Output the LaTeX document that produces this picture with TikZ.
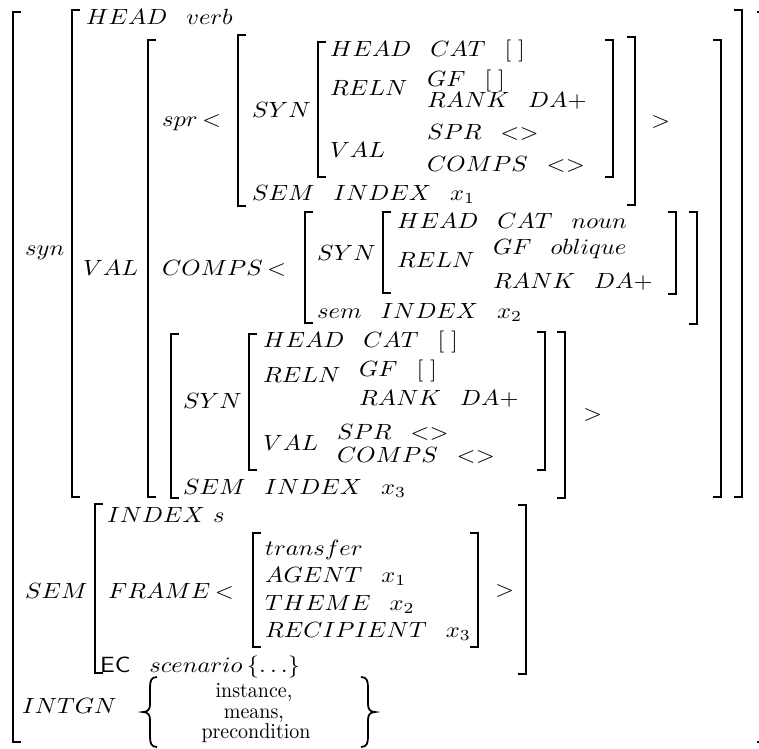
\documentclass[tikz,border=0pt]{standalone}
\usepackage{graphicx}
\newcommand\mt[1]{\scalebox{2.45}[2.2]{$#1$}}
\newcommand\rt[1]{\scalebox{2.0}[2.15]{#1}}
\tikzset{lbl/.style={anchor=base west, inner sep=0pt},
  nxt/.style={lbl, xshift=18.5pt},
  rel/.style={lbl, xshift=4pt},
  rom/.style={anchor=base, inner sep=0pt},
  br/.style={line width=2pt},
  brace/.style={line width=1.8pt}}
% word at a position / word after the previous one
\newcommand\avat[4]{\node[lbl] (#1) at (#2,#3) {\mt{#4}};}
\newcommand\avnx[3]{\node[nxt] (#1) at (#2.base east) {\mt{#3}};}
\newcommand\avrl[3]{\node[rel] (#1) at (#2.base east) {\mt{#3}};}
% brackets: x, top, bottom
\newcommand\avlb[3]{\draw[br] ({#1+8},#2) -- (#1,#2) -- (#1,#3) -- ({#1+8},#3);}
\newcommand\avrb[3]{\draw[br] ({#1-8},#2) -- (#1,#2) -- (#1,#3) -- ({#1-8},#3);}
\newcommand\emptyv{[\;]}
\begin{document}
\begin{tikzpicture}[x=1pt,y=-1pt]
\useasboundingbox (0,0) rectangle (759,748);
% ---- brackets ----
\avlb{12.5}{12}{742}  \avrb{765}{12}{742}
\avlb{72}{10}{497}    \avrb{742}{10}{497}
\avlb{148}{40}{497}   \avrb{721}{40}{497}
\avlb{238}{35}{206}   \avrb{635}{37}{205}
\avlb{318}{42}{177}   \avrb{613}{40}{177}
\avlb{305}{212}{323}  \avrb{697}{212}{324}
\avlb{383}{212}{293}  \avrb{676}{212}{294}
\avlb{171}{334}{498}  \avrb{565}{332}{498}
\avlb{249}{334}{470}  \avrb{545}{332}{470}
\avlb{95}{504}{673}   \avrb{526}{505}{674}
\avlb{253}{533}{647}  \avrb{478}{533}{647}
% ---- braces ----
\draw[brace] (157,677) .. controls (151,677) and (150,681) .. (150,688) -- (150,704)
  .. controls (150,709) and (148,712) .. (143,712) .. controls (148,712) and (150,715) .. (150,720)
  -- (150,736) .. controls (150,743) and (151,747) .. (157,747);
\draw[brace] (361,677) .. controls (367,677) and (368,681) .. (368,688) -- (368,704)
  .. controls (368,709) and (370,712) .. (375,712) .. controls (370,712) and (368,715) .. (368,720)
  -- (368,736) .. controls (368,743) and (367,747) .. (361,747);
% ---- syn part ----
\avat{syn}{25}{255}{syn}
\avat{h1}{86}{24}{HEAD} \avnx{h1v}{h1}{verb}
\avat{val}{83}{275}{VAL}
\avat{spr}{162}{126}{spr} \avrl{sprlt}{spr}{<}
% spr element
\avat{ao}{252}{117}{SYN}
\avat{aa}{330}{56}{HEAD} \avnx{ab}{aa}{CAT} \avnx{ac}{ab}{\emptyv}
\avat{ad}{330}{95}{RELN}
\avat{ae}{427}{86}{GF} \avnx{af}{ae}{\emptyv}
\avat{ag}{427}{107}{RANK} \avnx{ah}{ag}{DA+}
\avat{ai}{330}{157}{VAL}
\avat{aj}{427}{139}{SPR} \avnx{ak}{aj}{<>}
\avat{al}{427}{171}{COMPS} \avnx{am}{al}{<>}
\avat{an}{252}{200}{SEM} \avnx{ap}{an}{INDEX} \avnx{aq}{ap}{x_1}
\avat{agt}{651}{127}{>}
% COMPS element
\avat{cmp}{162}{275}{COMPS} \avrl{cmplt}{cmp}{<}
\avat{bo}{317}{260}{SYN}
\avat{ba}{397}{228}{HEAD} \avnx{bb}{ba}{CAT} \avnx{bc}{bb}{noun}
\avat{bd}{397}{267}{RELN}
\avat{be}{493}{254}{GF} \avnx{bf}{be}{oblique}
\avat{bg}{493}{288}{RANK} \avnx{bh}{bg}{DA+}
\avat{bn}{317}{318}{sem} \avnx{bp}{bn}{INDEX} \avnx{bq}{bp}{x_2}
% third element
\avat{co}{183}{408}{SYN}
\avat{ca}{263}{347}{HEAD} \avnx{cb}{ca}{CAT} \avnx{cc}{cb}{\emptyv}
\avat{cd}{263}{382}{RELN}
\avat{ce}{359}{376}{GF} \avnx{cf}{ce}{\emptyv}
\avat{cg}{359}{405}{RANK} \avnx{ch}{cg}{DA+}
\avat{ci}{263}{450}{VAL}
\avat{cj}{337}{439}{SPR} \avnx{ck}{cj}{<>}
\avat{cl}{337}{462}{COMPS} \avnx{cm}{cl}{<>}
\avat{cn}{183}{494}{SEM} \avnx{cp}{cn}{INDEX} \avnx{cq}{cp}{x_3}
\avat{cgt}{583}{420}{>}
% ---- SEM part ----
\avat{sem}{25}{598}{SEM}
\avat{da}{107}{522}{INDEX} \avat{db}{213}{522}{s}
\avat{dc}{108}{598}{FRAME} \avrl{dclt}{dc}{<}
\avat{ea}{265}{555}{transfer}
\avat{eb}{265}{582}{AGENT} \avnx{ebx}{eb}{x_1}
\avat{ec}{265}{610}{THEME} \avnx{ecx}{ec}{x_2}
\avat{ed}{265}{637}{RECIPIENT} \avnx{edx}{ed}{x_3}
\avat{egt}{495}{596}{>}
\avat{fa}{100}{672}{\mathsf{EC}} \avnx{fb}{fa}{scenario}
\node[lbl, xshift=4pt] (fc) at (fb.base east) {\mt{\{\ldots\}}};
% ---- INTGN part ----
\avat{intgn}{22}{713}{INTGN}
\node[rom] (ga) at (254,697) {\rt{instance,}};
\node[rom] (gb) at (254,718) {\rt{means,}};
\node[rom] (gc) at (256,738) {\rt{precondition}};
\end{tikzpicture}
\end{document}
